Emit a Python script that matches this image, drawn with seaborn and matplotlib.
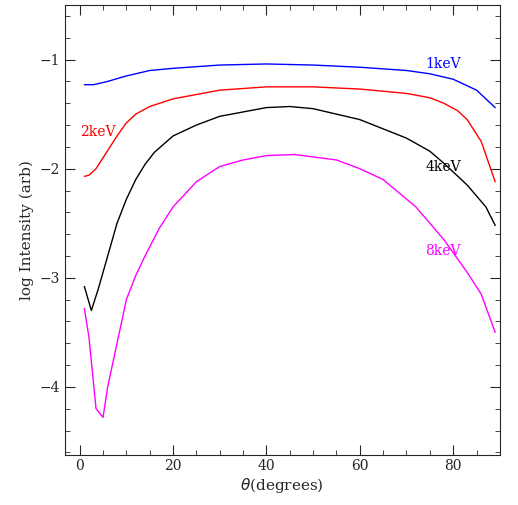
import matplotlib
matplotlib.use("Agg")
import matplotlib.pyplot as plt
import seaborn as sns
import pandas as pd
from matplotlib.ticker import MultipleLocator

sns.set_style("ticks")
plt.rcParams['font.family'] = ['DejaVu Serif']

x1 = [1, 3, 6, 10, 15, 20, 30, 40, 50, 60, 70, 75, 80, 85, 89]
y1 = [-1.23, -1.23, -1.2, -1.15, -1.1, -1.08, -1.05, -1.04, -1.05, -1.07, -1.1, -1.13, -1.18, -1.28, -1.44]
x2 = [1, 2, 3.5, 5, 6.5, 8, 10, 12, 15, 20, 30, 40, 50, 60, 70, 75, 78, 81, 83, 86, 89]
y2 = [-2.07, -2.06, -2.0, -1.9, -1.8, -1.7, -1.58, -1.5, -1.43, -1.36, -1.28, -1.25, -1.25, -1.27, -1.31, -1.35, -1.4, -1.47, -1.55, -1.75, -2.12]
x4 = [1, 2.5, 4, 6, 8, 10, 12, 14, 16, 20, 25, 30, 40, 45, 50, 60, 70, 75, 78, 83, 87, 89]
y4 = [-3.08, -3.3, -3.1, -2.8, -2.5, -2.28, -2.1, -1.96, -1.85, -1.7, -1.6, -1.52, -1.44, -1.43, -1.45, -1.55, -1.72, -1.84, -1.95, -2.15, -2.35, -2.52]
x8 = [1, 2, 3.5, 5, 6, 8, 10, 12, 14, 17, 20, 25, 30, 35, 40, 46, 55, 60, 65, 72, 78, 83, 86, 89]
y8 = [-3.28, -3.55, -4.2, -4.28, -4.0, -3.6, -3.2, -2.98, -2.8, -2.55, -2.35, -2.12, -1.98, -1.92, -1.88, -1.87, -1.92, -2.0, -2.1, -2.35, -2.65, -2.95, -3.15, -3.5]

series = [("1keV", x1, y1, "blue", (74, -1.08)),
          ("2keV", x2, y2, "red", (0, -1.7)),
          ("4keV", x4, y4, "black", (74, -2.02)),
          ("8keV", x8, y8, "magenta", (74, -2.79))]

fig, ax = plt.subplots(figsize=(5.18, 5.05), dpi=100)
fig.subplots_adjust(left=0.125, right=0.965, bottom=0.1, top=0.99)
for name, xs, ys, c, pos in series:
    df = pd.DataFrame({"x": xs, "y": ys})
    sns.lineplot(data=df, x="x", y="y", color=c, lw=1, ax=ax)
    ax.text(pos[0], pos[1], name, color=c, fontsize=10)

ax.set_xlim(-3.2, 90)
ax.set_ylim(-4.62, -0.5)
ax.xaxis.set_major_locator(MultipleLocator(20))
ax.xaxis.set_minor_locator(MultipleLocator(5))
ax.yaxis.set_major_locator(MultipleLocator(1))
ax.yaxis.set_minor_locator(MultipleLocator(0.2))
ax.tick_params(which="both", direction="in", top=True, right=True, labelsize=10)
ax.tick_params(which="major", length=7)
ax.tick_params(which="minor", length=3.5)
ax.set_xlabel(r"$\theta$(degrees)", fontsize=11, labelpad=2)
ax.set_ylabel("log Intensity (arb)", fontsize=11)
fig.savefig("out.png", dpi=100)
